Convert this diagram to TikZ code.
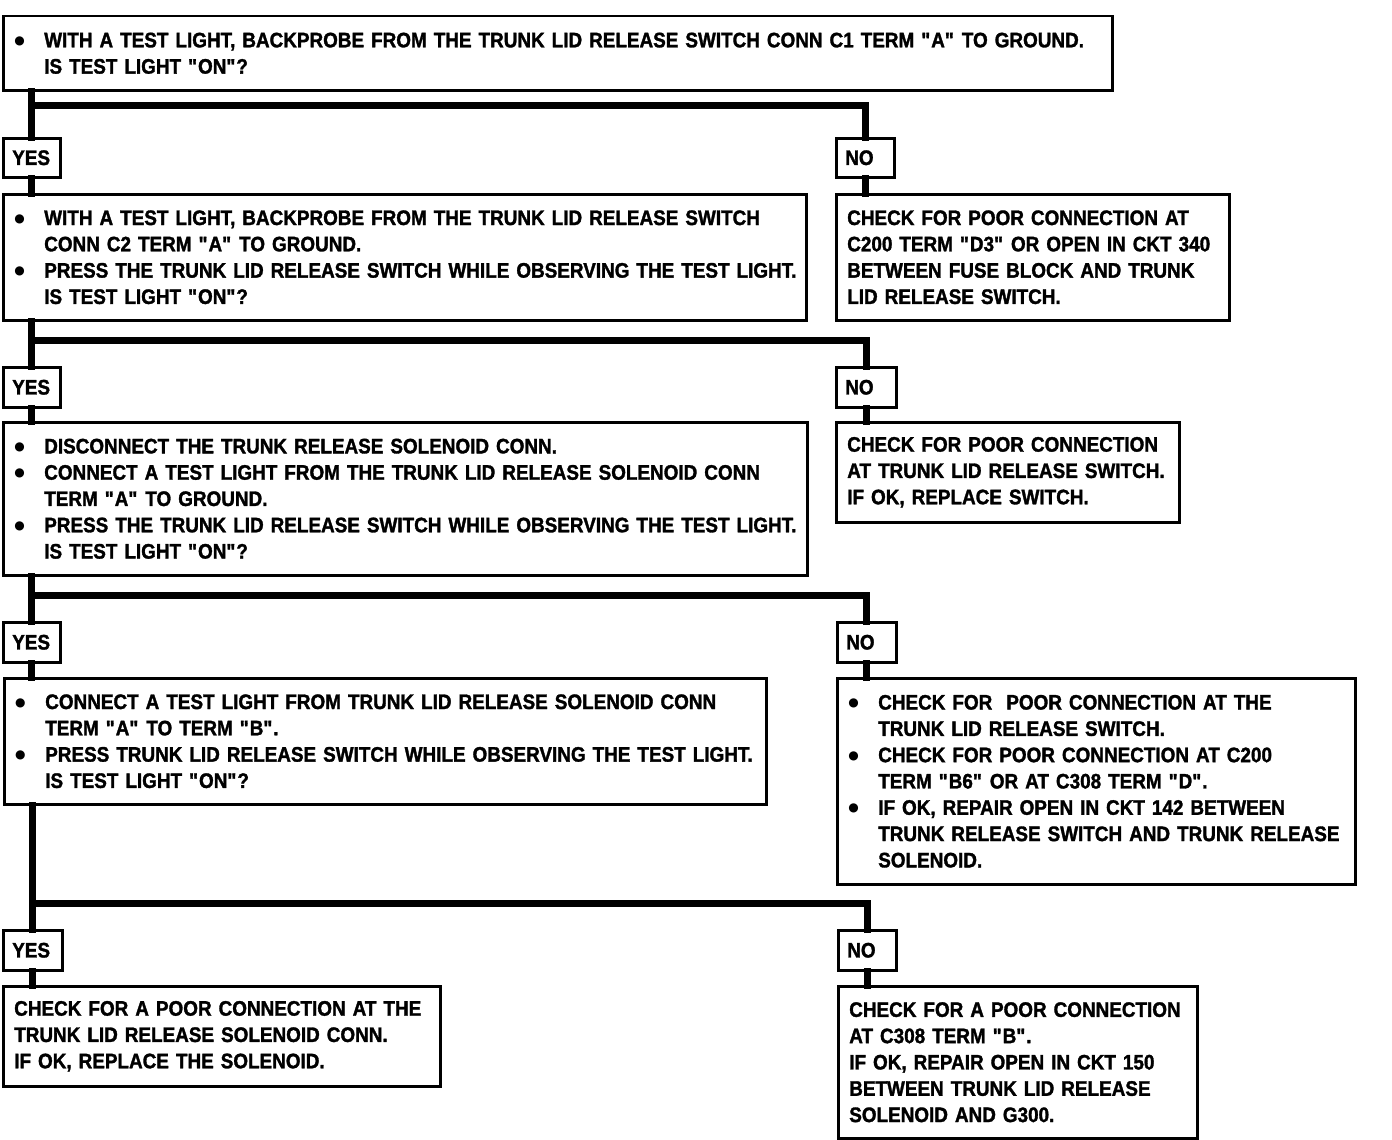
\documentclass[tikz,border=0pt]{standalone}
\usepackage{fontspec}
\setmainfont{Liberation Sans}[FakeStretch=0.9, BoldFeatures={FakeBold=1.5}]
\newfontfamily\symfont{DejaVu Sans}
\newcommand\bul{\makebox[30pt][l]{\raisebox{3pt}{\fontsize{12}{12}\symfont ●}}}
\newcommand\ind{\hspace*{30pt}}
\newcommand\q{\textquotedbl}
\begin{document}
\begin{tikzpicture}[x=1pt,y=-1pt,
  box/.style={draw, line width=2.5pt, anchor=north west, inner xsep=11pt, inner ysep=0pt,
    align=left, font=\fontsize{21}{26.3}\selectfont\bfseries},
  conn/.style={line width=7pt, line join=miter, line cap=rect}]
\fill[white] (0,0) rectangle (1392,1140);
\useasboundingbox (0,0) rectangle (1392,1140);

% level 1
\node[box, text width=1087pt, minimum height=74pt] (q1) at (2,15)
 {\mbox{\bul WITH A TEST LIGHT, BACKPROBE FROM THE TRUNK LID RELEASE SWITCH CONN C1 TERM \q A\q\ TO GROUND.}\\
  \ind IS TEST LIGHT \q ON\q?};
\node[box, text width=39pt, minimum height=39pt, inner xsep=9pt] (yes1) at (2,137) {YES};
\node[box, text width=40pt, minimum height=39pt, inner xsep=9pt] (no1) at (835,137) {NO};
\node[box, text width=781pt, minimum height=126pt] (q2) at (2,193)
 {\mbox{\bul WITH A TEST LIGHT, BACKPROBE FROM THE TRUNK LID RELEASE SWITCH}\\
  \ind CONN C2 TERM \q A\q\ TO GROUND.\\
  \mbox{\bul PRESS THE TRUNK LID RELEASE SWITCH WHILE OBSERVING THE TEST LIGHT.}\\
  \ind IS TEST LIGHT \q ON\q?};
\node[box, text width=371pt, minimum height=126pt] (n1) at (835,193)
 {CHECK FOR POOR CONNECTION AT\\
  C200 TERM \q D3\q\ OR OPEN IN CKT 340\\
  BETWEEN FUSE BLOCK AND TRUNK\\
  LID RELEASE SWITCH.};

% level 2
\node[box, text width=39pt, minimum height=40pt, inner xsep=9pt] (yes2) at (2,366) {YES};
\node[box, text width=42pt, minimum height=40pt, inner xsep=9pt] (no2) at (835,366) {NO};
\node[box, text width=782pt, minimum height=153pt] (q3) at (2,421)
 {\bul DISCONNECT THE TRUNK RELEASE SOLENOID CONN.\\
  \mbox{\bul CONNECT A TEST LIGHT FROM THE TRUNK LID RELEASE SOLENOID CONN}\\
  \ind TERM \q A\q\ TO GROUND.\\
  \mbox{\bul PRESS THE TRUNK LID RELEASE SWITCH WHILE OBSERVING THE TEST LIGHT.}\\
  \ind IS TEST LIGHT \q ON\q?};
\node[box, text width=321pt, minimum height=100pt] (n2) at (835,421)
 {CHECK FOR POOR CONNECTION\\
  AT TRUNK LID RELEASE SWITCH.\\
  IF OK, REPLACE SWITCH.};

% level 3
\node[box, text width=39pt, minimum height=40pt, inner xsep=9pt] (yes3) at (2,621) {YES};
\node[box, text width=41pt, minimum height=40pt, inner xsep=9pt] (no3) at (836,621) {NO};
\node[box, text width=740pt, minimum height=126pt] (q4) at (3,677)
 {\mbox{\bul CONNECT A TEST LIGHT FROM TRUNK LID RELEASE SOLENOID CONN}\\
  \ind TERM \q A\q\ TO TERM \q B\q.\\
  \mbox{\bul PRESS TRUNK LID RELEASE SWITCH WHILE OBSERVING THE TEST LIGHT.}\\
  \ind IS TEST LIGHT \q ON\q?};
\node[box, text width=496pt, minimum height=206pt] (n3) at (836,677)
 {\bul CHECK FOR\ \ POOR CONNECTION AT THE\\
  \ind TRUNK LID RELEASE SWITCH.\\
  \bul CHECK FOR POOR CONNECTION AT C200\\
  \ind TERM \q B6\q\ OR AT C308 TERM \q D\q.\\
  \bul IF OK, REPAIR OPEN IN CKT 142 BETWEEN\\
  \ind \mbox{TRUNK RELEASE SWITCH AND TRUNK RELEASE}\\
  \ind SOLENOID.};

% level 4
\node[box, text width=41pt, minimum height=40pt, inner xsep=9pt] (yes4) at (2,929) {YES};
\node[box, text width=40pt, minimum height=40pt, inner xsep=9pt] (no4) at (837,929) {NO};
\node[box, text width=415pt, minimum height=100pt] (r1) at (2,985)
 {CHECK FOR A POOR CONNECTION AT THE\\
  TRUNK LID RELEASE SOLENOID CONN.\\
  IF OK, REPLACE THE SOLENOID.};
\node[box, text width=337pt, minimum height=152pt] (n4) at (837,985)
 {CHECK FOR A POOR CONNECTION\\
  AT C308 TERM \q B\q.\\
  IF OK, REPAIR OPEN IN CKT 150\\
  BETWEEN TRUNK LID RELEASE\\
  SOLENOID AND G300.};

% branch points
\coordinate (b1) at (0,105);
\coordinate (b2) at (0,340);
\coordinate (b3) at (0,595);
\coordinate (b4) at (0,903);

% trunk connectors
\draw[conn] (yes1.north |- q1.south) -- (yes1.north);
\draw[conn] (yes1.south) -- (yes1.south |- q2.north);
\draw[conn] (yes2.north |- q2.south) -- (yes2.north);
\draw[conn] (yes2.south) -- (yes2.south |- q3.north);
\draw[conn] (yes3.north |- q3.south) -- (yes3.north);
\draw[conn] (yes3.south) -- (yes3.south |- q4.north);
\draw[conn] (yes4.north |- q4.south) -- (yes4.north);
\draw[conn] (yes4.south) -- (yes4.south |- r1.north);

% no branches
\draw[conn] (yes1.north |- b1) -| (no1.north);
\draw[conn] (no1.south) -- (no1.south |- n1.north);
\draw[conn] (yes2.north |- b2) -| (no2.north);
\draw[conn] (no2.south) -- (no2.south |- n2.north);
\draw[conn] (yes3.north |- b3) -| (no3.north);
\draw[conn] (no3.south) -- (no3.south |- n3.north);
\draw[conn] (yes4.north |- b4) -| (no4.north);
\draw[conn] (no4.south) -- (no4.south |- n4.north);
\end{tikzpicture}
\end{document}
